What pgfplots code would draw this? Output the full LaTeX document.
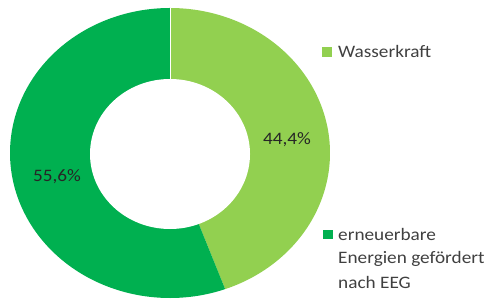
\documentclass[border=0pt]{standalone}
\usepackage{pgfplots}
\pgfplotsset{compat=1.18}
\usepackage{fontspec}
\setmainfont{Carlito}[FakeStretch=1.1]
\definecolor{lightg}{HTML}{92D050}
\definecolor{darkg}{HTML}{00B050}
\definecolor{txt}{HTML}{404040}
\definecolor{lbl}{HTML}{262626}
\begin{document}
\begin{tikzpicture}[x=1bp,y=1bp]
\useasboundingbox (0,0) rectangle (492,303);
% data (percent)
\pgfmathsetmacro{\vW}{44.4}
\pgfmathsetmacro{\vE}{55.6}
\pgfmathsetmacro{\aW}{90-\vW*3.6}
\pgfmathsetmacro{\aE}{\aW+360}
\begin{axis}[at={(0,0)}, anchor=south west, scale only axis,
  width=492bp, height=303bp, xmin=0, xmax=492, ymin=0, ymax=303,
  hide axis, clip=false]
\addplot[draw=none, fill=lightg, domain=\aW:90, samples=160]
  ({170+160*cos(x)},{150+145*sin(x)}) -- (axis cs:170,150) -- cycle;
\addplot[draw=none, fill=darkg, domain=90:\aE, samples=200]
  ({170+160*cos(x)},{150+145*sin(x)}) -- (axis cs:170,150) -- cycle;
\fill[white] (axis cs:170,149) ellipse [x radius=80, y radius=75];
\draw[white, line width=0.6pt] (axis cs:170,224) -- (axis cs:170,295);
\node[font=\fontsize{17.5bp}{21bp}\selectfont, text=lbl] at (axis cs:287,163) {44,4\%};
\node[font=\fontsize{17.5bp}{21bp}\selectfont, text=lbl] at (axis cs:57,126) {55,6\%};
% legend
\fill[lightg] (axis cs:322,246) rectangle (axis cs:332,256);
\node[anchor=base west, inner sep=0pt, font=\fontsize{17.5bp}{21bp}\selectfont, text=txt] at (axis cs:338,245) {Wasserkraft};
\fill[darkg] (axis cs:323,64) rectangle (axis cs:333,73);
\node[anchor=base west, inner sep=0pt, font=\fontsize{17.5bp}{21bp}\selectfont, text=txt] at (axis cs:338,63) {erneuerbare};
\node[anchor=base west, inner sep=0pt, font=\fontsize{17.5bp}{21bp}\selectfont, text=txt] at (axis cs:338,40) {Energien gefördert};
\node[anchor=base west, inner sep=0pt, font=\fontsize{17.5bp}{21bp}\selectfont, text=txt] at (axis cs:338,15) {nach EEG};
\end{axis}
\end{tikzpicture}
\end{document}
